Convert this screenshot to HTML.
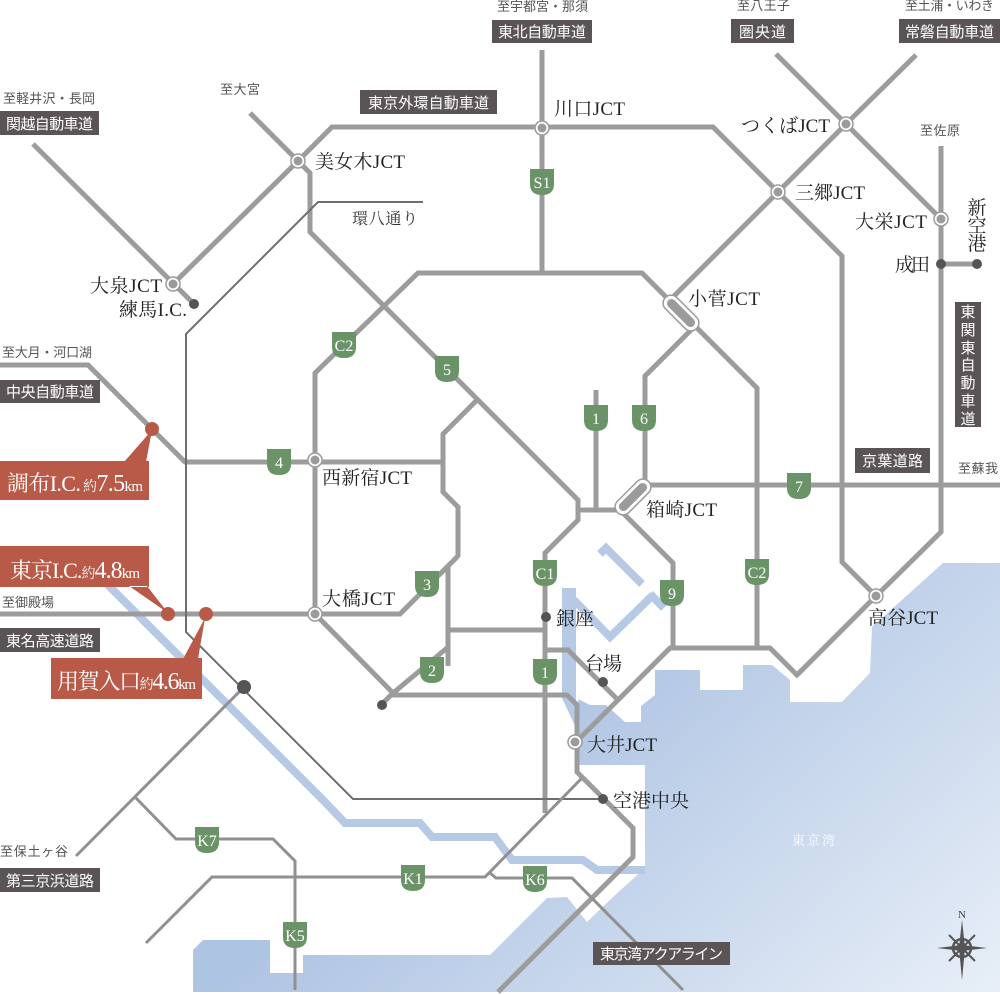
<!DOCTYPE html>
<html><head><meta charset="utf-8">
<style>
html,body{margin:0;padding:0;background:#fff;}
svg{display:block;}
.jct{font-family:"Liberation Serif","Noto Serif CJK SC",serif;font-size:19px;fill:#222;}
.box{font-family:"Liberation Sans","Noto Sans CJK JP",sans-serif;font-size:15px;fill:#fff;}
.to{font-family:"Liberation Sans","Noto Sans CJK JP",sans-serif;font-size:13px;fill:#555;}
.sh{font-family:"Liberation Serif","Noto Serif CJK SC",serif;font-size:16px;fill:#fff;text-anchor:middle;}
.red{font-family:"Liberation Serif","Noto Serif CJK SC",serif;fill:#fff;}
.road{fill:none;stroke:#9c9c9c;stroke-width:5;stroke-linejoin:miter;}
.thin{fill:none;stroke:#6e6e6e;stroke-width:2;}
.mid{fill:none;stroke:#909090;stroke-width:3;}
.riv{fill:none;stroke:#b6cae6;stroke-width:8;stroke-linejoin:miter;}
</style></head><body>
<svg width="1000" height="995" viewBox="0 0 1000 995" xmlns="http://www.w3.org/2000/svg">
<defs>
<linearGradient id="bay" gradientUnits="userSpaceOnUse" x1="650" y1="600" x2="1000" y2="995">
<stop offset="0" stop-color="#aec4e3"/>
<stop offset="1" stop-color="#e8eff8"/>
</linearGradient>
<path id="shield" d="M-12,-13 H12 V2 Q12,13 0,13 Q-12,13 -12,2 Z" fill="#6a9468"/>
</defs>
<rect width="1000" height="995" fill="#fff"/>

<!-- bay -->
<polygon fill="url(#bay)" points="1000,563 943,563 872,627 870,673 842,702 790,702 790,680 772,665 743,665 743,690 700,690 700,670 655,670 655,695 641,706 641,722 625,722 606,705 590,705 580,700 578,700 578,765 645,765 645,868 613,897 587,922 567,897 547,898 490,955 303,955 303,973 270,973 270,940 203,940 193,950 193,992 1000,992"/>
<!-- Sumida / Harumi water -->
<polygon fill="#b6cae6" points="562,588 576,588 576,728 562,698"/>
<polyline class="riv" points="574,600 610,637 653,595" stroke-width="10"/>
<polyline class="riv" points="600,554 606,548 642,584" stroke-width="9"/>
<polyline class="riv" points="650,594 664,608" stroke-width="8"/>
<!-- Tama river -->
<polyline class="riv" points="108,585 323,800 345,823 420,823 432,837 495,837 512,860 583,860 597,870 645,870"/>

<!-- thick roads -->
<path class="road" d="M33,144 L194,304"/>
<path class="road" d="M173,284 L298,161 L332,127 L713,127 L778,192 L842,256 L842,562 L876,596"/>
<path class="road" d="M776,54 L846,124 L941,219 L941,532 L876,596 L797,675 L770,648 L670,648 L575,743"/>
<path class="road" d="M916,55 L846,124 L778,192 L669,301"/>
<path class="road" d="M941,146 L941,219"/>
<path class="road" d="M941,264 L977,264"/>
<path class="road" d="M542,50 L542,273"/>
<path class="road" d="M250,113 L298,161 L310,173 L310,232 L578,500 L578,520 L545,553 L545,813"/>
<path class="road" d="M315,614 L315,373 L418,273 L642,273 L757,388 L757,648"/>
<path class="road" d="M693,328 L645,376 L645,484"/>
<path class="road" d="M646,485 L1000,485"/>
<path class="road" d="M596,390 L596,510"/>
<path class="road" d="M578,510 L620,510"/>
<path class="road" d="M620,510 L673,563 L673,648"/>
<path class="road" d="M0,365 L88,365 L185,462 L443,462"/>
<path class="road" d="M0,614 L400,614 L458,556"/>
<path class="road" d="M477,400 L443,434 L443,492 L458,507 L458,557"/>
<path class="road" d="M448,567 L448,666"/>
<path class="road" d="M447,648 L392,694 L382,704"/>
<path class="road" d="M448,630 L545,630"/>
<path class="road" d="M315,614 L393,693"/>
<path class="road" d="M392,695 L567,695 L577,705 L577,772 L633,828 L633,857 L498,992"/>
<path class="road" d="M545,650 L568,650 L618,700"/>

<!-- thin / medium roads -->
<path class="thin" d="M423,202 L318,202 L186,334 L186,632 L353,799 L603,799"/>
<path class="mid" d="M244,687 L76,856"/>
<path class="mid" d="M135,797 L176,839 L273,839 L295,861 L295,990"/>
<path class="mid" d="M146,943 L212,877 L485,877 L581,779"/>
<path class="mid" d="M490,873 L496,878 L572,878 L683,990"/>

<!-- JCT circles -->
<g fill="#fff" stroke="#9b9b9b" stroke-width="1.5">
<circle cx="298" cy="161" r="7"/><circle cx="542" cy="128" r="7"/><circle cx="846" cy="124" r="7"/>
<circle cx="778" cy="192" r="7"/><circle cx="941" cy="219" r="7"/><circle cx="173" cy="284" r="7"/>
<circle cx="315" cy="460" r="7"/><circle cx="315" cy="614" r="7"/><circle cx="876" cy="596" r="7"/>
<circle cx="575" cy="742" r="7"/>
</g>
<g fill="#9b9b9b">
<circle cx="298" cy="161" r="4.5"/><circle cx="542" cy="128" r="4.5"/><circle cx="846" cy="124" r="4.5"/>
<circle cx="778" cy="192" r="4.5"/><circle cx="941" cy="219" r="4.5"/><circle cx="173" cy="284" r="4.5"/>
<circle cx="315" cy="460" r="4.5"/><circle cx="315" cy="614" r="4.5"/><circle cx="876" cy="596" r="4.5"/>
<circle cx="575" cy="742" r="4.5"/>
</g>
<!-- capsules -->
<g transform="translate(681,313) rotate(45)">
<rect x="-22" y="-8" width="44" height="16" rx="8" fill="#fff" stroke="#9b9b9b" stroke-width="1.5"/>
<rect x="-18" y="-4.5" width="36" height="9" rx="4.5" fill="#9b9b9b"/>
</g>
<g transform="translate(633,497) rotate(-45)">
<rect x="-22" y="-8" width="44" height="16" rx="8" fill="#fff" stroke="#9b9b9b" stroke-width="1.5"/>
<rect x="-18" y="-4.5" width="36" height="9" rx="4.5" fill="#9b9b9b"/>
</g>

<!-- dark dots -->
<g fill="#555">
<circle cx="194" cy="304" r="5"/><circle cx="941" cy="264" r="5"/><circle cx="977" cy="264" r="5"/>
<circle cx="546" cy="617" r="5"/><circle cx="603" cy="682" r="5"/><circle cx="603" cy="799" r="5"/>
<circle cx="382" cy="705" r="5"/><circle cx="244" cy="687" r="7"/>
</g>

<!-- shields -->
<g>
<use href="#shield" x="542" y="182"/><use href="#shield" x="344" y="345"/><use href="#shield" x="447" y="369"/>
<use href="#shield" x="279" y="462"/><use href="#shield" x="596" y="418"/><use href="#shield" x="644" y="418"/>
<use href="#shield" x="799" y="486"/><use href="#shield" x="545" y="573"/><use href="#shield" x="672" y="593"/>
<use href="#shield" x="757" y="572"/><use href="#shield" x="427" y="584"/><use href="#shield" x="432" y="670"/>
<use href="#shield" x="545" y="672"/><use href="#shield" x="207" y="840"/><use href="#shield" x="413" y="878"/>
<use href="#shield" x="535" y="879"/><use href="#shield" x="295" y="935"/>
</g>
<g class="sh">
<text x="542" y="188">S1</text><text x="344" y="351">C2</text><text x="447" y="375">5</text>
<text x="279" y="468">4</text><text x="596" y="424">1</text><text x="644" y="424">6</text>
<text x="799" y="492">7</text><text x="545" y="579">C1</text><text x="672" y="599">9</text>
<text x="757" y="578">C2</text><text x="427" y="590">3</text><text x="432" y="676">2</text>
<text x="545" y="678">1</text><text x="207" y="846">K7</text><text x="413" y="884">K1</text>
<text x="535" y="885">K6</text><text x="295" y="941">K5</text>
</g>

<!-- red callouts -->
<g fill="#b85a47">
<path d="M0,461 H149 V500 H0 Z M124,462 L152,430 L146,462 Z"/>
<path d="M0,546 H149 V587 H0 Z M129,586 L168,613 L147,586 Z"/>
<path d="M51,658 H202 V699 H51 Z M183,659 L205,618 L198,659 Z"/>
<circle cx="152" cy="429" r="7"/><circle cx="168" cy="614" r="7"/><circle cx="206" cy="614" r="7"/>
</g>
<text class="red" x="7" y="491" textLength="136"><tspan font-size="22">調布I.C.</tspan><tspan font-size="14"> 約</tspan><tspan font-size="24">7.5</tspan><tspan font-size="15">km</tspan></text>
<text class="red" x="10" y="578" textLength="130"><tspan font-size="22">東京I.C.</tspan><tspan font-size="14">約</tspan><tspan font-size="24">4.8</tspan><tspan font-size="15">km</tspan></text>
<text class="red" x="57" y="689" textLength="139"><tspan font-size="22">用賀入口</tspan><tspan font-size="14">約</tspan><tspan font-size="24">4.6</tspan><tspan font-size="15">km</tspan></text>

<!-- dark label boxes -->
<g fill="#5a5456">
<rect x="0" y="111" width="99" height="24"/>
<rect x="360" y="90" width="137" height="24"/>
<rect x="492" y="20" width="100" height="23"/>
<rect x="731" y="19" width="63" height="24"/>
<rect x="899" y="19" width="101" height="24"/>
<rect x="0" y="380" width="100" height="23"/>
<rect x="0" y="628" width="100" height="24"/>
<rect x="0" y="868" width="100" height="24"/>
<rect x="855" y="448" width="75" height="25"/>
<rect x="593" y="942" width="137" height="23"/>
<rect x="955" y="302" width="26" height="125"/>
</g>
<g class="box">
<text x="6" y="129" textLength="87">関越自動車道</text>
<text x="368" y="108" textLength="121">東京外環自動車道</text>
<text x="498" y="37" textLength="88">東北自動車道</text>
<text x="739" y="37" textLength="47">圏央道</text>
<text x="905" y="37" textLength="89">常磐自動車道</text>
<text x="6" y="397" textLength="88">中央自動車道</text>
<text x="6" y="646" textLength="88">東名高速道路</text>
<text x="6" y="886" textLength="88">第三京浜道路</text>
<text x="862" y="466" textLength="61">京葉道路</text>
<text x="600" y="959" textLength="123">東京湾アクアライン</text>
</g>
<g class="box" text-anchor="middle" style="font-size:15px">
<text x="968" y="317">東</text><text x="968" y="335">関</text><text x="968" y="353">東</text>
<text x="968" y="370">自</text><text x="968" y="388">動</text><text x="968" y="406">車</text>
<text x="968" y="424">道</text>
</g>

<!-- small 至 texts -->
<g class="to">
<text x="3" y="103" textLength="92">至軽井沢・長岡</text>
<text x="220" y="94" textLength="40">至大宮</text>
<text x="497" y="11" textLength="91">至宇都宮・那須</text>
<text x="737" y="10" textLength="53">至八王子</text>
<text x="905" y="10" textLength="89">至土浦・いわき</text>
<text x="920" y="135" textLength="40">至佐原</text>
<text x="2" y="357" textLength="90">至大月・河口湖</text>
<text x="2" y="607" textLength="52">至御殿場</text>
<text x="0" y="856" textLength="68">至保土ヶ谷</text>
<text x="958" y="473" textLength="40">至蘇我</text>
</g>

<!-- JCT / place labels -->
<g class="jct">
<text x="315" y="168" textLength="90">美女木JCT</text>
<text x="554" y="115" textLength="71">川口JCT</text>
<text x="741" y="132" textLength="89">つくばJCT</text>
<text x="795" y="199" textLength="70">三郷JCT</text>
<text x="855" y="228" textLength="72">大栄JCT</text>
<text x="895" y="271" textLength="35">成田</text>
<text x="688" y="305" textLength="72">小菅JCT</text>
<text x="90" y="292" textLength="72">大泉JCT</text>
<text x="119" y="316" textLength="68">練馬I.C.</text>
<text x="322" y="484" textLength="90">西新宿JCT</text>
<text x="646" y="516" textLength="71">箱崎JCT</text>
<text x="322" y="605" textLength="73">大橋JCT</text>
<text x="556" y="625" textLength="38">銀座</text>
<text x="585" y="670" textLength="37">台場</text>
<text x="587" y="751" textLength="70">大井JCT</text>
<text x="613" y="807" textLength="76">空港中央</text>
<text x="868" y="624" textLength="70">高谷JCT</text>
<text x="352" y="224" textLength="66" style="font-size:16px;fill:#333">環八通り</text>
<text x="977" y="214" text-anchor="middle" style="font-size:19px">新</text>
<text x="977" y="232" text-anchor="middle" style="font-size:19px">空</text>
<text x="977" y="250" text-anchor="middle" style="font-size:19px">港</text>
</g>

<text x="792" y="845" textLength="43" style="font-family:'Liberation Serif','Noto Serif CJK SC',serif;font-size:13px;fill:#fff">東京湾</text>

<!-- compass -->
<g fill="#555" stroke="none">
<polygon points="962,920 965,948 962,980 959,948"/>
<polygon points="937,948 962,945 987,948 962,951"/>
</g>
<g stroke="#555" fill="none">
<line x1="949" y1="935" x2="975" y2="961" stroke-width="2"/>
<line x1="975" y1="935" x2="949" y2="961" stroke-width="2"/>
<circle cx="962" cy="948" r="9" stroke-width="2.5"/>
<circle cx="962" cy="948" r="4.5" stroke-width="1.5"/>
</g>
<text x="962" y="918" text-anchor="middle" style="font-family:'Liberation Serif',serif;font-size:11px;fill:#444">N</text>
</svg>
</body></html>
